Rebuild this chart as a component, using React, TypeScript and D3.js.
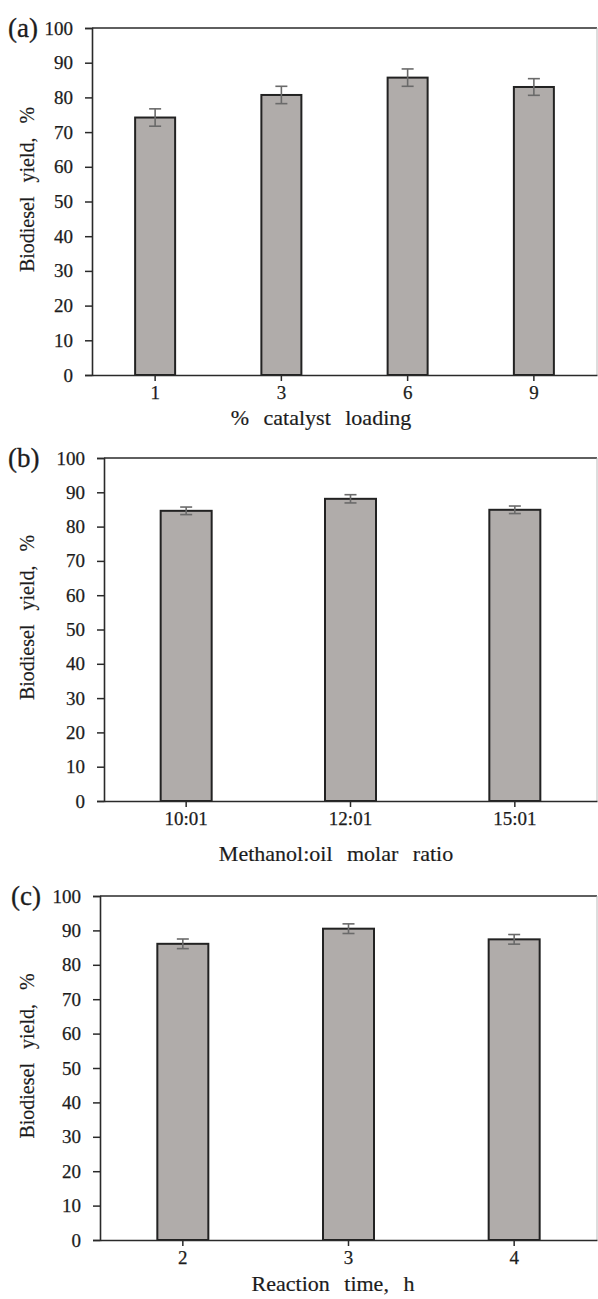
import React, { useEffect, useRef } from "react";
import * as d3 from "d3";

// ---- Data ----
const catA = ["1", "3", "6", "9"];
const valA = [74.2, 80.7, 85.7, 83.0];
const errA = [2.5, 2.5, 2.5, 2.4];

const catB = ["10:01", "12:01", "15:01"];
const valB = [84.6, 88.1, 84.9];
const errB = [1.1, 1.2, 1.1];

const catC = ["2", "3", "4"];
const valC = [86.1, 90.5, 87.4];
const errC = [1.4, 1.4, 1.4];

const yTicks = [0, 10, 20, 30, 40, 50, 60, 70, 80, 90, 100];

const panels = [
  { tag: "(a)", cats: catA, vals: valA, errs: errA, xTitle: "% catalyst loading",
    x0: 92, x1: 597, yTop: 28, yZero: 375, barW: 40, tagX: 8, titleDy: 50, titleCx: 321 },
  { tag: "(b)", cats: catB, vals: valB, errs: errB, xTitle: "Methanol:oil molar ratio",
    x0: 104, x1: 597, yTop: 458, yZero: 801, barW: 51, tagX: 8, titleDy: 60, titleCx: 336 },
  { tag: "(c)", cats: catC, vals: valC, errs: errC, xTitle: "Reaction time, h",
    x0: 100, x1: 597, yTop: 896, yZero: 1240, barW: 51, tagX: 11, titleDy: 51, titleCx: 333 },
];

const FONT = "'Liberation Serif', 'Times New Roman', serif";
const TEXT = "#1c1c1c";
const AXIS = "#2a2a2a";

export default function App() {
  const ref = useRef<SVGSVGElement | null>(null);

  useEffect(() => {
    document.body.style.margin = "0";
    const svg = d3.select(ref.current);
    svg.selectAll("*").remove();

    panels.forEach((p) => {
      const g = svg.append("g");
      const x = d3.scaleBand<string>().domain(p.cats).range([p.x0, p.x1]);
      const y = d3.scaleLinear().domain([0, 100]).range([p.yZero, p.yTop]);

      // frame top and right
      g.append("line").attr("x1", p.x0).attr("x2", p.x1).attr("y1", y(100)).attr("y2", y(100))
        .attr("stroke", AXIS).attr("stroke-width", 1.5);
      g.append("line").attr("x1", p.x1).attr("x2", p.x1).attr("y1", y(100)).attr("y2", y(0))
        .attr("stroke", "#bbb").attr("stroke-width", 1);

      // bars
      p.cats.forEach((c, i) => {
        const cx = (x(c) as number) + x.bandwidth() / 2;
        g.append("rect")
          .attr("x", cx - p.barW / 2)
          .attr("y", y(p.vals[i]))
          .attr("width", p.barW)
          .attr("height", y(0) - y(p.vals[i]))
          .attr("fill", "#b0acaa")
          .attr("stroke", "#222")
          .attr("stroke-width", 2);
        const hi = y(p.vals[i] + p.errs[i]);
        const lo = y(p.vals[i] - p.errs[i]);
        const eb = g.append("g").attr("stroke", "#6a6a6a").attr("stroke-width", 1.6);
        eb.append("line").attr("x1", cx).attr("x2", cx).attr("y1", hi).attr("y2", lo);
        eb.append("line").attr("x1", cx - 6).attr("x2", cx + 6).attr("y1", hi).attr("y2", hi);
        eb.append("line").attr("x1", cx - 6).attr("x2", cx + 6).attr("y1", lo).attr("y2", lo);
      });

      // y axis
      const yAxis = d3.axisLeft(y).tickValues(yTicks).tickSize(7).tickPadding(12).tickFormat(d3.format("d"));
      const ya = g.append("g").attr("transform", `translate(${p.x0},0)`).call(yAxis);
      ya.select(".domain").attr("stroke", AXIS).attr("stroke-width", 1.6);
      ya.selectAll(".tick line").attr("stroke", AXIS).attr("stroke-width", 1.5);
      ya.selectAll(".tick text").attr("font-family", FONT).attr("font-size", 19).attr("fill", TEXT)
        .attr("stroke", TEXT).attr("stroke-width", 0.25);

      // x axis
      const xAxis = d3.axisBottom(x).tickSize(6).tickPadding(5).tickSizeOuter(0);
      const xa = g.append("g").attr("transform", `translate(0,${p.yZero})`).call(xAxis);
      xa.select(".domain").attr("stroke", AXIS).attr("stroke-width", 1.6);
      xa.selectAll(".tick line").attr("stroke", AXIS).attr("stroke-width", 1.5);
      xa.selectAll(".tick text").attr("font-family", FONT).attr("font-size", 19).attr("fill", TEXT)
        .attr("stroke", TEXT).attr("stroke-width", 0.25);

      // x title
      g.append("text").attr("x", p.titleCx).attr("y", p.yZero + p.titleDy)
        .attr("text-anchor", "middle").attr("font-family", FONT).attr("font-size", 22)
        .attr("word-spacing", 9).attr("fill", TEXT).attr("stroke", TEXT).attr("stroke-width", 0.2)
        .text(p.xTitle);

      // y title
      const cy = (p.yTop + p.yZero) / 2 - 12;
      g.append("text").attr("transform", `translate(34,${cy}) rotate(-90)`)
        .attr("text-anchor", "middle").attr("font-family", FONT).attr("font-size", 20)
        .attr("word-spacing", 9).attr("fill", TEXT).attr("stroke", TEXT).attr("stroke-width", 0.2)
        .text("Biodiesel yield, %");

      // panel tag
      g.append("text").attr("x", p.tagX).attr("y", p.yTop + 9)
        .attr("font-family", FONT).attr("font-size", 27).attr("fill", TEXT)
        .attr("stroke", TEXT).attr("stroke-width", 0.3).text(p.tag);
    });
  }, []);

  return <svg ref={ref} width={598} height={1299} style={{ display: "block", background: "#fff" }} />;
}
